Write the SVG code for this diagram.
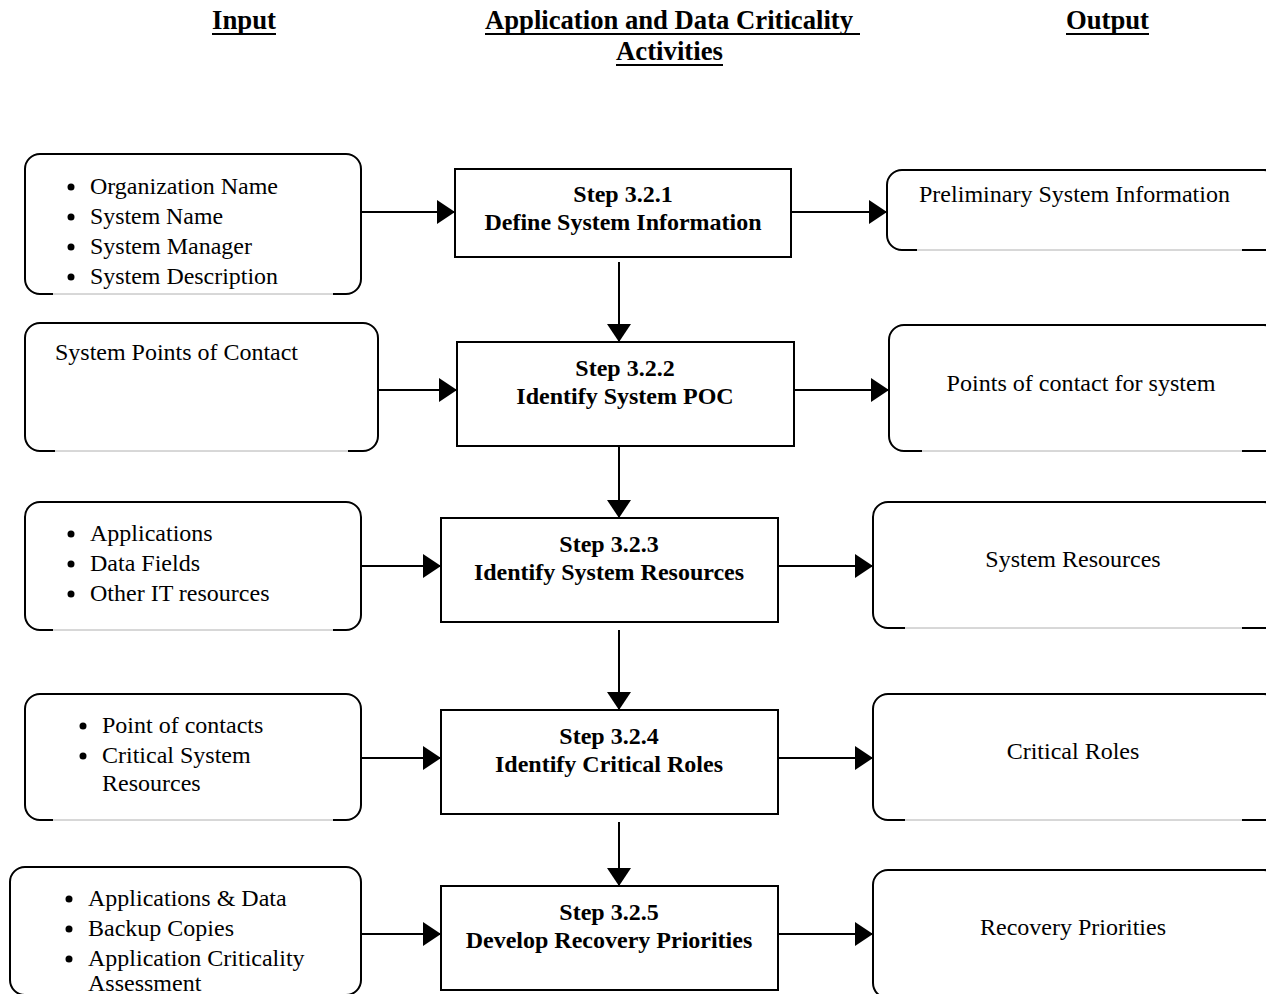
<svg xmlns="http://www.w3.org/2000/svg" width="1266" height="994" viewBox="0 0 1266 994">
<style>
.rb{fill:#fff;stroke:#000;stroke-width:2}
.st{fill:#fff;stroke:#000;stroke-width:2}
.gap{stroke:#fff;stroke-width:3}
.thin{stroke:#b0b0b0;stroke-width:1}
.t{font-family:"Liberation Serif","Times New Roman",serif;font-size:24px;fill:#000}
.b{font-family:"Liberation Serif","Times New Roman",serif;font-size:24px;font-weight:bold;fill:#000}
.h{font-family:"Liberation Serif","Times New Roman",serif;font-size:27px;font-weight:bold;fill:#000}
.ul{stroke:#000;stroke-width:2}
.c{stroke:#000;stroke-width:2;fill:none;marker-end:url(#ah)}
.dot{fill:#000}
</style>
<defs>
<marker id="ah" markerUnits="userSpaceOnUse" markerWidth="18" markerHeight="24" refX="18" refY="12" orient="auto">
<path d="M0,0 L18,12 L0,24 z" fill="#000"/>
</marker>
</defs>
<rect width="1266" height="994" fill="#fff"/>

<g id="headers">
<text class="h" x="212" y="29" textLength="64" lengthAdjust="spacingAndGlyphs">Input</text>
<line class="ul" x1="212" y1="34" x2="276" y2="34"/>
<text class="h" x="485" y="29" textLength="368" lengthAdjust="spacingAndGlyphs">Application and Data Criticality</text>
<line class="ul" x1="485" y1="34" x2="860" y2="34"/>
<text class="h" x="616" y="60" textLength="107" lengthAdjust="spacingAndGlyphs">Activities</text>
<line class="ul" x1="616" y1="65" x2="723" y2="65"/>
<text class="h" x="1066" y="29" textLength="83" lengthAdjust="spacingAndGlyphs">Output</text>
<line class="ul" x1="1066" y1="34" x2="1149" y2="34"/>
</g>

<g id="connectors">
<line class="c" x1="359" y1="212" x2="455" y2="212"/>
<line class="c" x1="791" y1="212" x2="887" y2="212"/>
<line class="c" x1="619" y1="262" x2="619" y2="342"/>
<line class="c" x1="378" y1="390" x2="457" y2="390"/>
<line class="c" x1="794" y1="390" x2="889" y2="390"/>
<line class="c" x1="619" y1="446" x2="619" y2="518"/>
<line class="c" x1="361" y1="566" x2="441" y2="566"/>
<line class="c" x1="778" y1="566" x2="873" y2="566"/>
<line class="c" x1="619" y1="630" x2="619" y2="710"/>
<line class="c" x1="361" y1="758" x2="441" y2="758"/>
<line class="c" x1="778" y1="758" x2="873" y2="758"/>
<line class="c" x1="619" y1="822" x2="619" y2="886"/>
<line class="c" x1="361" y1="934" x2="441" y2="934"/>
<line class="c" x1="778" y1="934" x2="873" y2="934"/>
</g>

<g id="in1">
<rect class="rb" x="25" y="154" width="336" height="140" rx="15"/>
<line class="gap" x1="53" y1="294" x2="333" y2="294"/><line class="thin" x1="53" y1="294" x2="333" y2="294"/>
<circle class="dot" cx="71" cy="187" r="3.5"/><text class="t" x="90" y="194" textLength="188" lengthAdjust="spacingAndGlyphs">Organization Name</text>
<circle class="dot" cx="71" cy="217" r="3.5"/><text class="t" x="90" y="224" textLength="133" lengthAdjust="spacingAndGlyphs">System Name</text>
<circle class="dot" cx="71" cy="247" r="3.5"/><text class="t" x="90" y="254" textLength="162" lengthAdjust="spacingAndGlyphs">System Manager</text>
<circle class="dot" cx="71" cy="277" r="3.5"/><text class="t" x="90" y="284" textLength="188" lengthAdjust="spacingAndGlyphs">System Description</text>
</g>

<g id="step1">
<rect class="st" x="455" y="169" width="336" height="88"/>
<text class="b" x="623" y="202" text-anchor="middle">Step 3.2.1</text>
<text class="b" x="623" y="230" text-anchor="middle" textLength="277" lengthAdjust="spacingAndGlyphs">Define System Information</text>
</g>

<g id="out1">
<rect class="rb" x="887" y="170" width="392" height="80" rx="15"/>
<line class="gap" x1="917" y1="250" x2="1242" y2="250"/><line class="thin" x1="917" y1="250" x2="1242" y2="250"/>
<text class="t" x="919" y="202" textLength="311" lengthAdjust="spacingAndGlyphs">Preliminary System Information</text>
</g>

<g id="in2">
<rect class="rb" x="25" y="323" width="353" height="128" rx="15"/>
<line class="gap" x1="55" y1="451" x2="348" y2="451"/><line class="thin" x1="55" y1="451" x2="348" y2="451"/>
<text class="t" x="55" y="360" textLength="243" lengthAdjust="spacingAndGlyphs">System Points of Contact</text>
</g>

<g id="step2">
<rect class="st" x="457" y="342" width="337" height="104"/>
<text class="b" x="625" y="376" text-anchor="middle">Step 3.2.2</text>
<text class="b" x="625" y="404" text-anchor="middle">Identify System POC</text>
</g>

<g id="out2">
<rect class="rb" x="889" y="325" width="390" height="126" rx="15"/>
<line class="gap" x1="922" y1="451" x2="1242" y2="451"/><line class="thin" x1="922" y1="451" x2="1242" y2="451"/>
<text class="t" x="1081" y="391" text-anchor="middle" textLength="269" lengthAdjust="spacingAndGlyphs">Points of contact for system</text>
</g>

<g id="in3">
<rect class="rb" x="25" y="502" width="336" height="128" rx="15"/>
<line class="gap" x1="53" y1="630" x2="333" y2="630"/><line class="thin" x1="53" y1="630" x2="333" y2="630"/>
<circle class="dot" cx="71" cy="534" r="3.5"/><text class="t" x="90" y="541">Applications</text>
<circle class="dot" cx="71" cy="564" r="3.5"/><text class="t" x="90" y="571">Data Fields</text>
<circle class="dot" cx="71" cy="594" r="3.5"/><text class="t" x="90" y="601">Other IT resources</text>
</g>

<g id="step3">
<rect class="st" x="441" y="518" width="337" height="104"/>
<text class="b" x="609" y="552" text-anchor="middle">Step 3.2.3</text>
<text class="b" x="609" y="580" text-anchor="middle">Identify System Resources</text>
</g>

<g id="out3">
<rect class="rb" x="873" y="502" width="406" height="126" rx="15"/>
<line class="gap" x1="905" y1="628" x2="1242" y2="628"/><line class="thin" x1="905" y1="628" x2="1242" y2="628"/>
<text class="t" x="1073" y="567" text-anchor="middle">System Resources</text>
</g>

<g id="in4">
<rect class="rb" x="25" y="694" width="336" height="126" rx="15"/>
<line class="gap" x1="53" y1="820" x2="333" y2="820"/><line class="thin" x1="53" y1="820" x2="333" y2="820"/>
<circle class="dot" cx="83" cy="726" r="3.5"/><text class="t" x="102" y="733">Point of contacts</text>
<circle class="dot" cx="83" cy="756" r="3.5"/><text class="t" x="102" y="763">Critical System</text>
<text class="t" x="102" y="791">Resources</text>
</g>

<g id="step4">
<rect class="st" x="441" y="710" width="337" height="104"/>
<text class="b" x="609" y="744" text-anchor="middle">Step 3.2.4</text>
<text class="b" x="609" y="772" text-anchor="middle">Identify Critical Roles</text>
</g>

<g id="out4">
<rect class="rb" x="873" y="694" width="406" height="126" rx="15"/>
<line class="gap" x1="905" y1="820" x2="1242" y2="820"/><line class="thin" x1="905" y1="820" x2="1242" y2="820"/>
<text class="t" x="1073" y="759" text-anchor="middle">Critical Roles</text>
</g>

<g id="in5">
<rect class="rb" x="10" y="867" width="351" height="128" rx="15"/>
<circle class="dot" cx="69" cy="899" r="3.5"/><text class="t" x="88" y="906">Applications &amp; Data</text>
<circle class="dot" cx="69" cy="929" r="3.5"/><text class="t" x="88" y="936">Backup Copies</text>
<circle class="dot" cx="69" cy="959" r="3.5"/><text class="t" x="88" y="966">Application Criticality</text>
<text class="t" x="88" y="991">Assessment</text>
</g>

<g id="step5">
<rect class="st" x="441" y="886" width="337" height="104"/>
<text class="b" x="609" y="920" text-anchor="middle">Step 3.2.5</text>
<text class="b" x="609" y="948" text-anchor="middle">Develop Recovery Priorities</text>
</g>

<g id="out5">
<rect class="rb" x="873" y="870" width="406" height="128" rx="15"/>
<text class="t" x="1073" y="935" text-anchor="middle">Recovery Priorities</text>
</g>
</svg>
